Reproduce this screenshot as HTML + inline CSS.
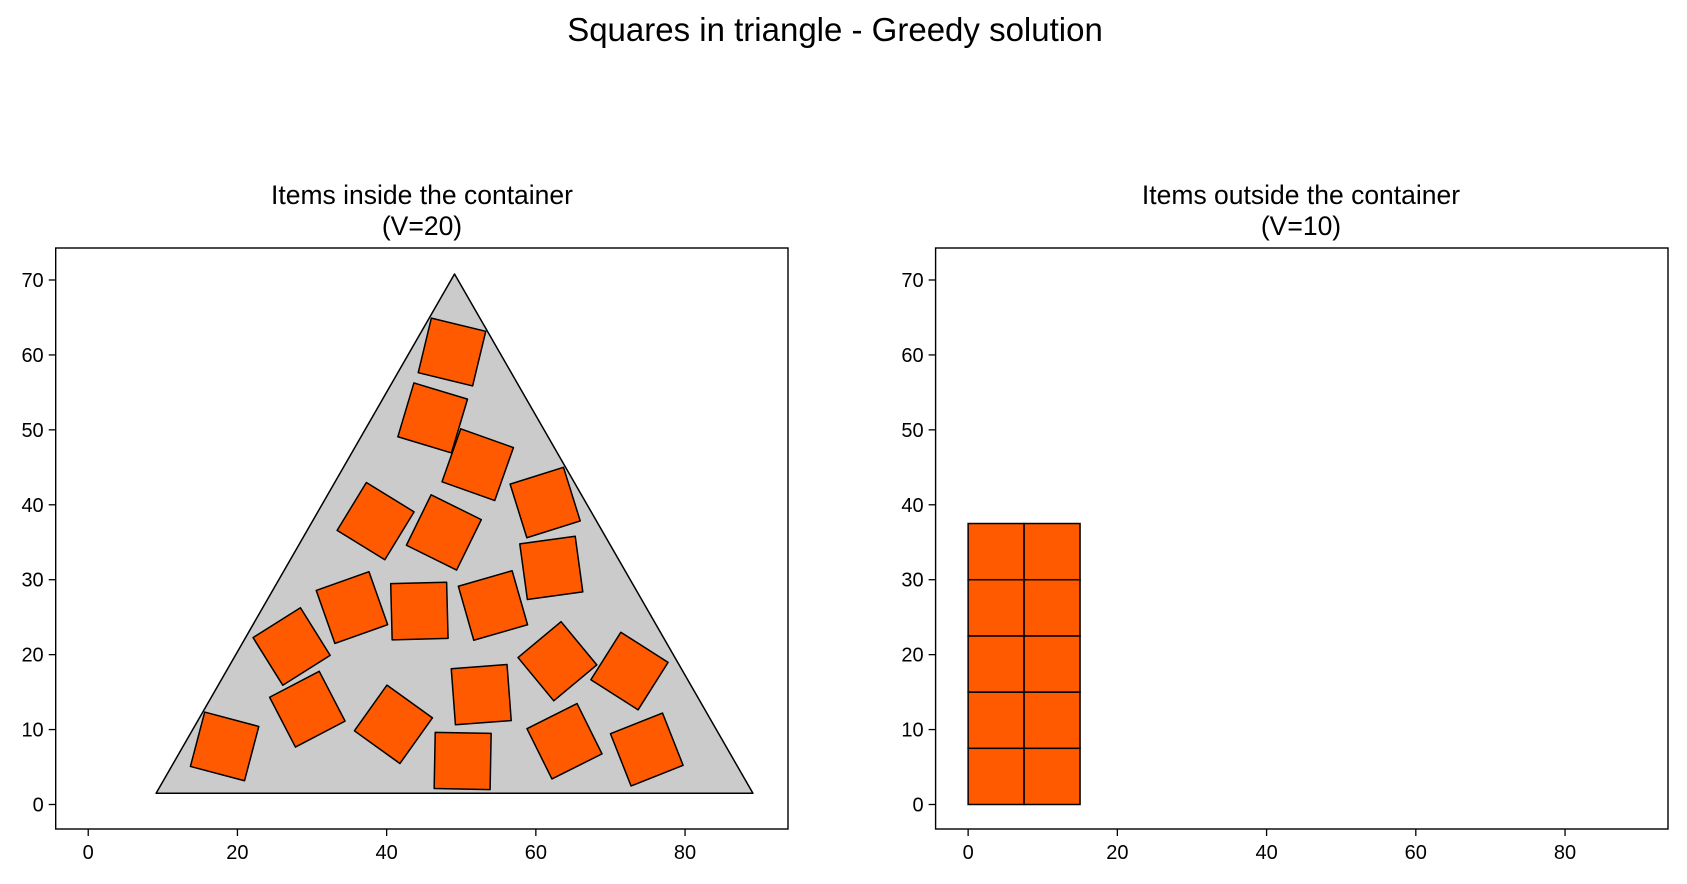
<!DOCTYPE html>
<html><head><meta charset="utf-8"><style>
html,body{margin:0;padding:0;background:#fff}
svg{display:block;font-family:"Liberation Sans","DejaVu Sans",sans-serif}
</style></head><body>
<svg id="fig" width="1687" height="884" viewBox="0 0 1687 884" xmlns="http://www.w3.org/2000/svg">
<rect width="1687" height="884" fill="#fff"/>
<text x="835" y="41" font-size="33" text-anchor="middle" fill="#000">Squares in triangle - Greedy solution</text>
<text x="422" y="204" font-size="26.5" text-anchor="middle">Items inside the container</text>
<text x="422" y="235" font-size="26.5" text-anchor="middle">(V=20)</text>
<text x="1301" y="204" font-size="26.5" text-anchor="middle">Items outside the container</text>
<text x="1301" y="235" font-size="26.5" text-anchor="middle">(V=10)</text>
<g id="left"></g>
<g id="right"></g>
</svg>
<script>
const xTicks = [0, 20, 40, 60, 80];
const yTicks = [0, 10, 20, 30, 40, 50, 60, 70];
const xLim = [-4.36, 93.8];
const yLim = [-3.27, 74.27];
const side = 7.5;
const triangleX = [9.1, 89.1, 49.1];
const triangleY = [1.5, 1.5, 70.8];
// inside squares: centers and rotation (deg)
const insideCx = [48.76, 46.17, 52.21, 61.25, 38.52, 47.67, 62.07, 35.35, 44.39, 54.25, 27.26, 62.89, 72.55, 52.68, 29.37, 40.91, 63.84, 74.87, 18.28, 50.19];
const insideCy = [60.39, 51.59, 45.35, 40.30, 37.82, 36.31, 31.58, 26.28, 25.82, 26.56, 21.09, 19.12, 17.81, 14.66, 12.72, 10.70, 8.44, 7.34, 7.75, 5.81];
const insideAngle = [-13.6, -16.7, -19.5, 17.4, -31.5, -26.2, 7.8, 19.5, 1.5, 16.0, 32.1, 39.7, -32.4, 4.3, 27.5, -35.6, 26.5, 21.6, -14.8, -1.1];
// outside squares: lower-left corners
const outsideX = [0, 7.5, 0, 7.5, 0, 7.5, 0, 7.5, 0, 7.5];
const outsideY = [0, 0, 7.5, 7.5, 15, 15, 22.5, 22.5, 30, 30];

const NS = "http://www.w3.org/2000/svg";
function mk(tag, attrs, parent){const e=document.createElementNS(NS,tag);for(const k in attrs)e.setAttribute(k,attrs[k]);parent.appendChild(e);return e;}

function buildAxes(g, left, right, top, bottom){
  const sx = v => left + (v - xLim[0]) / (xLim[1]-xLim[0]) * (right-left);
  const sy = v => bottom - (v - yLim[0]) / (yLim[1]-yLim[0]) * (bottom-top);
  xTicks.forEach(t=>{
    const l = mk('line',{x1:sx(t),x2:sx(t),y1:bottom,y2:bottom+7,stroke:'#000','stroke-width':1.3},g);
    
    
    const tx = mk('text',{x:sx(t),y:bottom+30,'font-size':20,'text-anchor':'middle'},g);
    tx.textContent = t;
    
    
  });
  yTicks.forEach(t=>{
    const l = mk('line',{x1:left-7,x2:left,y1:sy(t),y2:sy(t),stroke:'#000','stroke-width':1.3},g);
    
    
    const tx = mk('text',{x:left-12,y:sy(t)+7,'font-size':20,'text-anchor':'end'},g);
    tx.textContent = t;
    
    
  });
  return {sx, sy};
}

const L = {l:55.7, r:788, t:248, b:829};
const R = {l:935.6, r:1668, t:248, b:829};
const gl = document.getElementById('left');
const gr = document.getElementById('right');
const A = buildAxes(gl, L.l, L.r, L.t, L.b);
const B = buildAxes(gr, R.l, R.r, R.t, R.b);

const tri = mk('polygon',{points: triangleX.map((x,i)=>A.sx(x)+','+A.sy(triangleY[i])).join(' '), fill:'#cbcbcb', stroke:'#000','stroke-width':1.5,'stroke-linejoin':'round'},gl);



insideCx.forEach((cx,i)=>{
  const a = insideAngle[i]*Math.PI/180, h = side/2;
  const pts = [[-h,-h],[h,-h],[h,h],[-h,h]].map(([u,v])=>{
    const x = cx + u*Math.cos(a) - v*Math.sin(a);
    const y = insideCy[i] + u*Math.sin(a) + v*Math.cos(a);
    return A.sx(x)+','+A.sy(y);
  }).join(' ');
  const p = mk('polygon',{points:pts, fill:'#ff5a00', stroke:'#000','stroke-width':1.5,'stroke-linejoin':'round'},gl);
  
  
});

outsideX.forEach((x,i)=>{
  const y = outsideY[i];
  const p = mk('rect',{x:B.sx(x), y:B.sy(y+side), width:B.sx(x+side)-B.sx(x), height:B.sy(y)-B.sy(y+side), fill:'#ff5a00', stroke:'#000','stroke-width':1.5},gr);
  
  
});

[[gl,L],[gr,R]].forEach(([g,b])=>{
  const f = mk('rect',{x:b.l,y:b.t,width:b.r-b.l,height:b.b-b.t,fill:'none',stroke:'#000','stroke-width':1.4},g);
  
  
});
</script>
</body></html>
